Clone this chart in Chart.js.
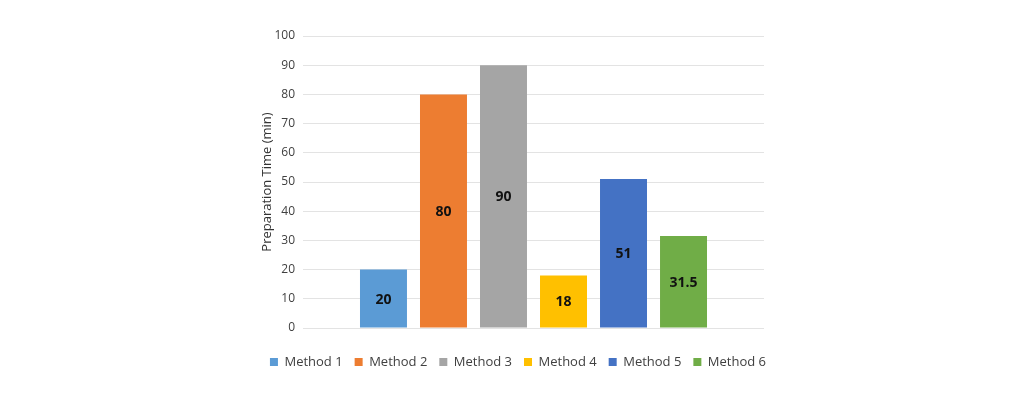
<!DOCTYPE html>
<html>
<head>
<meta charset="utf-8">
<script src="https://cdn.jsdelivr.net/npm/chart.js@4"></script>
<style>
  html, body { margin: 0; padding: 0; background: #fff; }
  #wrap { width: 1024px; height: 398px; position: relative; }
</style>
</head>
<body>
<div id="wrap"><canvas id="prep-chart"></canvas></div>
<script>
// Chart data
const methods = ['Method 1', 'Method 2', 'Method 3', 'Method 4', 'Method 5', 'Method 6'];
const prepTimes = [20, 80, 90, 18, 51, 31.5];
const yMin = 0;
const yMax = 100;
const yStep = 10;

// Office-like palette, one colour per method
const palette = ['#5B9BD5', '#ED7D31', '#A5A5A5', '#FFC000', '#4472C4', '#70AD47'];

const baseFont = '"Open Sans", "Noto Sans", sans-serif';

// Writes each value in the middle of its bar
const barValueLabels = {
    id: 'barValueLabels',
    afterDatasetsDraw(chart) {
        const ctx = chart.ctx;
        ctx.save();
        ctx.font = 'bold 14px ' + baseFont;
        ctx.fillStyle = '#111';
        ctx.textAlign = 'center';
        ctx.textBaseline = 'middle';
        chart.data.datasets.forEach((ds, i) => {
            const meta = chart.getDatasetMeta(i);
            meta.data.forEach((bar, j) => {
                const props = bar.getProps(['x', 'y', 'base'], true);
                ctx.fillText(String(ds.data[j]), props.x, (props.y + props.base) / 2 + 1);
            });
        });
        ctx.restore();
    }
};

const datasets = methods.map((name, i) => ({
    label: name,
    data: [prepTimes[i]],
    backgroundColor: palette[i],
    borderWidth: 0,
    categoryPercentage: 0.781,
    barPercentage: 0.783
}));

new Chart(document.getElementById('prep-chart'), {
    type: 'bar',
    data: {
        labels: [''],
        datasets: datasets
    },
    plugins: [barValueLabels],
    options: {
        responsive: true,
        maintainAspectRatio: false,
        animation: false,
        layout: {
            padding: { left: 229, right: 217, top: 36, bottom: 19.5 }
        },
        scales: {
            x: {
                type: 'category',
                grid: { display: false },
                border: { display: false },
                ticks: { display: false },
                afterFit: (scale) => { scale.height = 15.5; }
            },
            y: {
                min: yMin,
                max: yMax,
                ticks: {
                    stepSize: yStep,
                    padding: 8,
                    color: '#404040',
                    font: { family: baseFont, size: 12 }
                },
                grid: { color: '#e3e3e3', lineWidth: 1, drawTicks: false },
                border: { display: false },
                title: {
                    display: true,
                    text: 'Preparation Time (min)',
                    color: '#333',
                    padding: { top: 30, bottom: 0 },
                    font: { family: baseFont, size: 13 }
                },
                afterFit: (scale) => { scale.width = 74; }
            },
            yRight: {
                type: 'linear',
                position: 'right',
                grid: { display: false },
                border: { display: false },
                ticks: { display: false },
                afterFit: (scale) => { scale.width = 43; }
            }
        },
        plugins: {
            legend: {
                position: 'bottom',
                labels: {
                    boxWidth: 8,
                    boxHeight: 8,
                    padding: 12,
                    color: '#404040',
                    font: { family: baseFont, size: 13 }
                }
            },
            tooltip: { enabled: false }
        }
    }
});
</script>
</body>
</html>
